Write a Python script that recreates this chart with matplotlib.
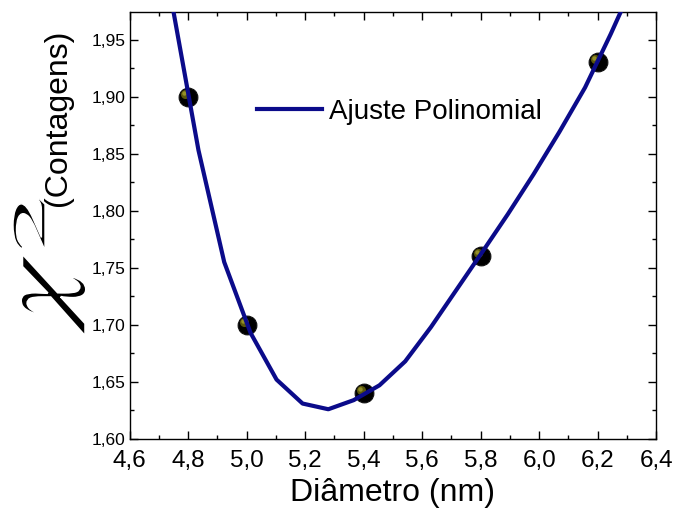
import matplotlib
matplotlib.use("Agg")
import matplotlib.pyplot as plt
from matplotlib.ticker import MultipleLocator, FuncFormatter
from matplotlib.transforms import offset_copy, Affine2D, IdentityTransform
from matplotlib.textpath import TextPath
from matplotlib.patches import PathPatch

plt.rcParams['font.family'] = ['Liberation Sans', 'DejaVu Sans']
plt.rcParams['mathtext.fontset'] = 'stix'

# measured points
diam = [4.8, 5.0, 5.4, 5.8, 6.2]
chi2 = [1.90, 1.70, 1.64, 1.76, 1.93]

# polynomial fit curve, vertices
fit_x = [4.659, 4.747, 4.835, 4.923, 5.013, 5.102, 5.191, 5.279, 5.366, 5.454,
         5.542, 5.630, 5.718, 5.806, 5.893, 5.981, 6.069, 6.157, 6.245, 6.333]
fit_y = [2.136, 1.978, 1.853, 1.755, 1.693, 1.652, 1.631, 1.626, 1.634, 1.647,
         1.668, 1.698, 1.731, 1.764, 1.797, 1.832, 1.869, 1.908, 1.955, 2.005]

line_color = '#0b0b8a'
H_PX = 514

fig = plt.figure(figsize=(6.77, 5.14), dpi=100)
ax = fig.add_axes([0.1917, 0.1461, 0.7774, 0.830])

# fit line on top of the markers
ax.plot(fit_x, fit_y, color=line_color, lw=3.0, zorder=4, label='Ajuste Polinomial')

# dark spheres with a yellowish highlight
ax.plot(diam, chi2, 'o', ms=13.5, mfc='black', mec='#111111', mew=0.8, zorder=2)
hl = offset_copy(ax.transData, fig=fig, x=-3, y=3, units='dots')
ax.plot(diam, chi2, 'o', ms=6.5, mfc='#5a570c', mec='none', transform=hl, zorder=3)
hl2 = offset_copy(ax.transData, fig=fig, x=-4, y=4, units='dots')
ax.plot(diam, chi2, 'o', ms=3.2, mfc='#948f28', mec='none', transform=hl2, zorder=3)

ax.set_xlim(4.6, 6.4)
ax.set_ylim(1.60, 1.974)

ax.xaxis.set_major_locator(MultipleLocator(0.2))
ax.xaxis.set_minor_locator(MultipleLocator(0.1))
ax.yaxis.set_major_locator(MultipleLocator(0.05))
ax.yaxis.set_minor_locator(MultipleLocator(0.025))
ax.xaxis.set_major_formatter(FuncFormatter(lambda v, p: f'{v:.1f}'.replace('.', ',')))
ax.yaxis.set_major_formatter(FuncFormatter(lambda v, p: f'{v:.2f}'.replace('.', ',')))

ax.tick_params(which='both', direction='in', top=True, right=True, width=1.0, color='black')
ax.tick_params(which='major', length=6)
ax.tick_params(which='minor', length=3)
ax.tick_params(axis='x', which='major', labelsize=17.5, pad=8)
ax.tick_params(axis='y', which='major', labelsize=12.5, pad=3)
for s in ax.spines.values():
    s.set_linewidth(1.0)

ax.set_xlabel('Diâmetro (nm)', fontsize=23, labelpad=4)


def glyph(text, x0, x1, y0, y1, erode):
    """Draw a glyph rotated 90 deg, stretched into the pixel box x0..x1, y0..y1 (top-left origin)."""
    tp = TextPath((0, 0), text, size=50)
    ext = tp.get_extents()
    w, h = y1 - y0, x1 - x0
    tr = (Affine2D().translate(-ext.x0, -ext.y0)
          .scale(w / ext.width, h / ext.height)
          .rotate_deg(90)
          .translate(x1, H_PX - y1))
    fig.patches.append(PathPatch(tp, transform=tr + IdentityTransform(),
                                 facecolor='black', edgecolor='white', lw=erode))


# y label: big chi^2 followed by (Contagens)
glyph(r'$\chi$', 21, 86, 254, 336, 1.4)
glyph(r'$2$', 13, 45, 198, 249, 1.0)
fig.text(58 / 677, 1 - 118 / 514, '(Contagens)', fontsize=23, rotation=90,
         ha='center', va='center')

ax.legend(loc='center left', bbox_to_anchor=(0.2417, 0.7663), frameon=False,
          fontsize=20, handlelength=2.35, handletextpad=0.25, borderpad=0,
          borderaxespad=0)

fig.savefig('out.png', dpi=100)
